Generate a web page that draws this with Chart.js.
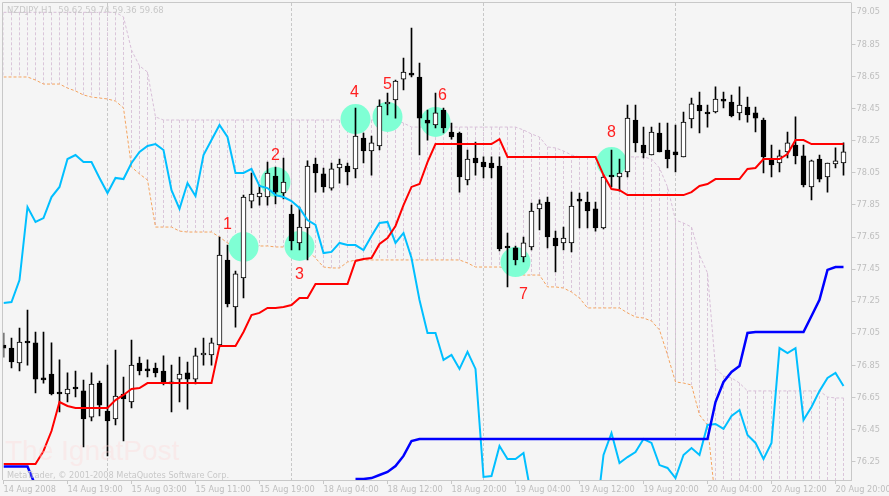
<!DOCTYPE html>
<html>
<head>
<meta charset="utf-8">
<script src="https://cdn.jsdelivr.net/npm/chart.js@4.4.1/dist/chart.umd.min.js"></script>
<style>
html, body { margin: 0; padding: 0; background: #f5f5f5; }
canvas { display: block; }
</style>
</head>
<body>
<canvas id="chart" width="889" height="496"></canvas>
<script>
// NZDJPY H1, 14 Aug 2008 11:00 .. 20 Aug 2008 22:00, one entry per bar
const opens = [
  76.977, 76.958, 76.865, 77.002, 76.990, 76.772, 76.796, 76.684, 76.672, 76.715,
  76.691, 76.528, 76.740, 76.566, 76.516, 76.672, 76.622, 76.865, 76.828, 76.834,
  76.815, 76.747, 76.765, 76.803, 76.765, 76.915, 76.915, 76.977, 77.507, 77.214,
  77.395, 77.874, 77.899, 77.899, 78.030, 77.924, 77.793, 77.613, 77.706, 78.105,
  78.043, 77.955, 78.080, 78.092, 78.074, 78.267, 78.186, 78.217, 78.479, 78.504,
  78.634, 78.672, 78.647, 78.379, 78.348, 78.441, 78.304, 78.298, 78.005, 78.142,
  78.117, 78.111, 78.092, 77.594, 77.582, 77.526, 77.588, 77.825, 77.868, 77.644,
  77.613, 77.613, 77.887, 77.868, 77.825, 77.706, 78.036, 78.024, 78.055, 78.379,
  78.223, 78.161, 78.298, 78.192, 78.180, 78.149, 78.385, 78.472, 78.429, 78.429,
  78.510, 78.491, 78.423, 78.460, 78.423, 78.379, 78.136, 78.111, 78.180, 78.223,
  78.155, 77.962, 78.136, 78.024, 78.105, 78.111
];
const highs = [
  77.052, 77.021, 77.083, 77.195, 77.058, 77.058, 76.990, 76.884, 76.803, 76.815,
  76.759, 76.803, 76.753, 76.852, 76.946, 76.778, 77.008, 76.902, 76.884, 76.865,
  76.909, 76.852, 76.902, 76.871, 76.958, 77.021, 77.021, 77.650, 77.600, 77.438,
  77.911, 78.049, 77.974, 78.117, 78.086, 78.142, 77.849, 77.837, 78.124, 78.142,
  78.080, 78.111, 78.136, 78.111, 78.454, 78.298, 78.279, 78.504, 78.547, 78.628,
  78.765, 78.952, 78.734, 78.441, 78.547, 78.454, 78.360, 78.304, 78.192, 78.242,
  78.149, 78.149, 78.149, 77.675, 77.594, 77.650, 77.862, 77.881, 77.899, 77.687,
  77.712, 77.930, 77.924, 77.930, 77.868, 78.036, 78.192, 78.136, 78.472, 78.472,
  78.335, 78.335, 78.360, 78.360, 78.348, 78.429, 78.516, 78.553, 78.472, 78.585,
  78.553, 78.535, 78.585, 78.522, 78.460, 78.391, 78.223, 78.192, 78.304, 78.398,
  78.223, 78.130, 78.161, 78.111, 78.205, 78.236
];
const lows = [
  76.902, 76.834, 76.815, 76.852, 76.678, 76.740, 76.666, 76.560, 76.622, 76.653,
  76.342, 76.504, 76.535, 76.286, 76.479, 76.379, 76.585, 76.790, 76.778, 76.778,
  76.728, 76.560, 76.622, 76.578, 76.734, 76.852, 76.852, 76.971, 77.214, 77.089,
  77.270, 77.831, 77.849, 77.849, 77.856, 77.887, 77.569, 77.569, 77.507, 77.930,
  77.930, 77.942, 77.986, 77.974, 78.018, 78.111, 78.036, 78.192, 78.410, 78.391,
  78.566, 78.647, 78.161, 78.254, 78.329, 78.298, 78.260, 77.930, 77.974, 78.036,
  78.018, 78.018, 77.563, 77.339, 77.476, 77.494, 77.569, 77.694, 77.582, 77.432,
  77.569, 77.557, 77.706, 77.706, 77.687, 77.700, 77.962, 77.936, 78.024, 78.180,
  78.142, 78.161, 78.180, 78.080, 78.055, 78.149, 78.329, 78.298, 78.335, 78.423,
  78.454, 78.398, 78.379, 78.366, 78.304, 78.049, 78.024, 78.055, 78.142, 78.105,
  77.962, 77.881, 77.993, 77.930, 78.080, 78.036
];
const closes = [
  76.958, 76.871, 76.996, 76.990, 76.765, 76.759, 76.672, 76.672, 76.703, 76.703,
  76.516, 76.734, 76.603, 76.504, 76.659, 76.641, 76.852, 76.815, 76.815, 76.803,
  76.747, 76.734, 76.796, 76.765, 76.909, 76.927, 76.990, 77.538, 77.233, 77.420,
  77.899, 77.918, 77.924, 78.049, 77.930, 77.993, 77.625, 77.712, 78.092, 78.049,
  77.962, 78.074, 78.105, 78.055, 78.279, 78.186, 78.236, 78.466, 78.491, 78.622,
  78.678, 78.659, 78.391, 78.360, 78.423, 78.329, 78.273, 78.024, 78.136, 78.111,
  78.086, 78.080, 77.575, 77.582, 77.507, 77.613, 77.812, 77.856, 77.650, 77.594,
  77.644, 77.843, 77.874, 77.812, 77.706, 78.024, 78.024, 78.049, 78.391, 78.236,
  78.174, 78.304, 78.180, 78.136, 78.161, 78.366, 78.479, 78.435, 78.417, 78.510,
  78.497, 78.404, 78.472, 78.410, 78.391, 78.149, 78.099, 78.155, 78.236, 78.155,
  77.974, 78.124, 78.011, 78.111, 78.124, 78.180
];

// red line
const redLine = [
  76.236, 76.236, 76.236, 76.236, 76.236, 76.317, 76.441, 76.622, 76.597, 76.585,
  76.585, 76.585, 76.585, 76.585, 76.634, 76.666, 76.703, 76.709, 76.740, 76.740,
  76.740, 76.740, 76.740, 76.740, 76.740, 76.740, 76.740, 76.971, 76.971, 76.971,
  77.058, 77.164, 77.177, 77.208, 77.208, 77.214, 77.226, 77.270, 77.270, 77.357,
  77.357, 77.357, 77.357, 77.357, 77.501, 77.513, 77.519, 77.607, 77.644, 77.719,
  77.849, 77.962, 77.980, 78.117, 78.229, 78.229, 78.229, 78.229, 78.229, 78.229,
  78.229, 78.229, 78.260, 78.149, 78.149, 78.149, 78.149, 78.149, 78.149, 78.149,
  78.149, 78.149, 78.149, 78.149, 78.149, 78.036, 77.949, 77.942, 77.911, 77.911,
  77.911, 77.911, 77.911, 77.911, 77.911, 77.911, 77.930, 77.968, 77.980, 78.011,
  78.011, 78.011, 78.011, 78.074, 78.080, 78.136, 78.136, 78.136, 78.167, 78.254,
  78.254, 78.229, 78.229, 78.229, 78.229, 78.229
];

// blue line (below the visible range from bar 5 to bar 43)
const blueLine = [
  76.220, 76.220, 76.220, 76.220, 76.100, null, null, null, null, null,
  null, null, null, null, null, null, null, null, null, null,
  null, null, null, null, null, null, null, null, null, null,
  null, null, null, null, null, null, null, null, null, null,
  null, null, null, null, 76.142, 76.142, 76.148, 76.167, 76.186, 76.223,
  76.286, 76.379, 76.391, 76.391, 76.391, 76.391, 76.391, 76.391, 76.391, 76.391,
  76.391, 76.391, 76.391, 76.391, 76.391, 76.391, 76.391, 76.391, 76.391, 76.391,
  76.391, 76.391, 76.391, 76.391, 76.391, 76.391, 76.391, 76.391, 76.391, 76.391,
  76.391, 76.391, 76.391, 76.391, 76.391, 76.391, 76.391, 76.391, 76.391, 76.622,
  76.747, 76.809, 76.846, 77.052, 77.058, 77.058, 77.058, 77.058, 77.058, 77.058,
  77.058, 77.158, 77.258, 77.445, 77.463, 77.463
];

// light blue line
const cyanLine = [
  77.239, 77.245, 77.382, 77.837, 77.744, 77.768, 77.899, 77.962, 78.136, 78.161,
  78.117, 78.117, 78.018, 77.924, 78.018, 78.011, 78.111, 78.180, 78.217, 78.229,
  78.192, 77.942, 77.825, 77.986, 77.905, 78.161, 78.254, 78.348, 78.273, 78.049,
  78.049, 78.074, 77.968, 77.955, 77.911, 77.899, 77.874, 77.831, 77.756, 77.725,
  77.550, 77.557, 77.613, 77.600, 77.600, 77.569, 77.656, 77.737, 77.744, 77.613,
  77.675, 77.519, 77.258, 77.052, 77.052, 76.884, 76.915, 76.828, 76.934, 76.828,
  76.155, 76.161, 76.348, 76.267, 76.267, 76.304, 76.030, null, null, null,
  null, null, null, null, 75.870, 76.292, 76.429, 76.242, 76.279, 76.310,
  76.391, 76.367, 76.229, 76.211, 76.148, 76.292, 76.335, 76.292, 76.479, 76.485,
  76.454, 76.535, 76.572, 76.416, 76.367, 76.267, 76.367, 76.958, 76.927, 76.958,
  76.510, 76.591, 76.691, 76.772, 76.803, 76.722
];

// cloud borders
const spanA = [
  79.050, 79.050, 79.050, 79.050, 79.050, 79.050, 79.050, 79.050, 79.050, 79.050,
  79.050, 79.050, 79.050, 79.050, 79.050, 79.021, 78.815, 78.716, 78.678, 78.398,
  78.379, 78.379, 78.379, 78.379, 78.379, 78.379, 78.379, 78.379, 78.379, 78.379,
  78.379, 78.379, 78.379, 78.379, 78.379, 78.379, 78.379, 78.379, 78.379, 78.379,
  78.379, 78.379, 78.379, 78.379, 78.379, 78.379, 78.379, 78.379, 78.379, 78.379,
  78.360, 78.335, 78.335, 78.335, 78.335, 78.335, 78.335, 78.335, 78.335, 78.335,
  78.335, 78.335, 78.335, 78.335, 78.335, 78.317, 78.292, 78.273, 78.211, 78.205,
  78.186, 78.161, 78.149, 78.149, 78.149, 78.149, 78.149, 78.149, 78.149, 78.149,
  78.149, 78.136, 78.080, 77.962, 77.756, 77.737, 77.712, 77.538, 77.426, 76.834,
  76.784, 76.772, 76.740, 76.691, 76.691, 76.691, 76.691, 76.691, 76.691, 76.691,
  76.691, 76.691, 76.691, 76.653, 76.647, 76.647
];
const spanB = [
  78.647, 78.647, 78.647, 78.647, 78.628, 78.603, 78.603, 78.603, 78.578, 78.560,
  78.535, 78.522, 78.516, 78.510, 78.497, 78.454, 78.086, 78.043, 78.005, 77.712,
  77.712, 77.712, 77.687, 77.681, 77.681, 77.681, 77.681, 77.650, 77.613, 77.594,
  77.594, 77.594, 77.594, 77.594, 77.588, 77.588, 77.582, 77.575, 77.569, 77.519,
  77.463, 77.457, 77.457, 77.494, 77.507, 77.507, 77.507, 77.507, 77.507, 77.507,
  77.507, 77.507, 77.507, 77.507, 77.507, 77.507, 77.507, 77.507, 77.488, 77.463,
  77.463, 77.463, 77.463, 77.457, 77.426, 77.413, 77.413, 77.413, 77.339, 77.339,
  77.332, 77.307, 77.270, 77.208, 77.208, 77.208, 77.208, 77.208, 77.177, 77.152,
  77.145, 77.127, 77.071, 76.915, 76.747, 76.740, 76.728, 76.541, 76.479, 76.000,
  null, null, null, null, null, null, null, null, null, null,
  null, null, null, null, null, null
];

// marked points
const markerBars = [30, 34, 37, 44, 48, 54, 64, 76];
const markerPrices = [77.588, 77.993, 77.594, 78.385, 78.398, 78.367, 77.494, 78.117];
const markerLabels = ['1', '2', '3', '4', '5', '6', '7', '8'];
const markerLabelShift = [[-16, -22], [0, -26], [0, 29], [-1, -26], [0, -32], [7, -26], [8, 33], [0, -29]];

// day separators (first bar of each day)
const dayStartBars = [13, 36, 60, 84];

const xTickBars = [0, 8, 16, 24, 32, 40, 48, 56, 64, 72, 80, 88, 96, 104];
const xTickLabels = ['14 Aug 2008', '14 Aug 19:00', '15 Aug 03:00', '15 Aug 11:00', '15 Aug 19:00',
  '18 Aug 04:00', '18 Aug 12:00', '18 Aug 20:00', '19 Aug 04:00', '19 Aug 12:00',
  '19 Aug 20:00', '20 Aug 04:00', '20 Aug 12:00', '20 Aug 20:00'];
const yTicks = [76.25, 76.45, 76.65, 76.85, 77.05, 77.25, 77.45, 77.65, 77.85, 78.05, 78.25, 78.45, 78.65, 78.85, 79.05];

const labels = [];
for (let i = 0; i <= opens.length; i++) {
    labels.push(i);
}

const wickData = highs.map((h, i) => [lows[i], h]);
const bodyData = opens.map((o, i) => [o, closes[i]]);
const bodyColors = opens.map((o, i) => closes[i] >= o ? '#ffffff' : '#000000');
const markerData = markerBars.map((b, i) => ({x: b, y: markerPrices[i]}));

const gray = 'rgb(200,200,200)';
const textGray = 'rgb(190,190,190)';

const backdrop = {
    id: 'backdrop',
    beforeDraw(chart) {
        const c = chart.ctx;
        c.save();
        c.fillStyle = '#f5f5f5';
        c.fillRect(0, 0, chart.width, chart.height);
        c.restore();
    },
    beforeDatasetsDraw(chart) {
        const c = chart.ctx;
        const area = chart.chartArea;
        const x = chart.scales.x;
        const y = chart.scales.y;
        c.save();
        c.beginPath();
        c.rect(area.left, area.top, area.right - area.left, area.bottom - area.top);
        c.clip();
        c.lineWidth = 1;

        c.strokeStyle = gray;
        c.setLineDash([3, 2]);
        dayStartBars.forEach(b => {
            const px = x.getPixelForValue(b);
            c.beginPath();
            c.moveTo(px, area.top);
            c.lineTo(px, area.bottom);
            c.stroke();
        });

        c.strokeStyle = 'rgb(218,198,218)';
        c.setLineDash([3, 2]);
        for (let i = 0; i < spanA.length; i++) {
            if (spanA[i] === null) continue;
            const px = x.getPixelForValue(i);
            const ya = y.getPixelForValue(spanA[i]);
            const yb = spanB[i] === null ? area.bottom : y.getPixelForValue(spanB[i]);
            c.beginPath();
            c.moveTo(px, Math.min(ya, yb));
            c.lineTo(px, Math.max(ya, yb));
            c.stroke();
        }
        c.restore();
    },
    afterDatasetsDraw(chart) {
        const c = chart.ctx;
        const area = chart.chartArea;
        const x = chart.scales.x;
        const y = chart.scales.y;
        c.save();
        c.strokeStyle = gray;
        c.lineWidth = 1;
        c.beginPath();
        c.moveTo(area.left - 1, area.bottom);
        c.lineTo(area.left - 1, area.top - 0.5);
        c.lineTo(area.right, area.top - 0.5);
        c.stroke();

        c.fillStyle = '#ff2020';
        c.font = '16px "Liberation Sans"';
        c.textAlign = 'center';
        c.textBaseline = 'middle';
        markerBars.forEach((b, i) => {
            const px = x.getPixelForValue(b) + markerLabelShift[i][0];
            const py = y.getPixelForValue(markerPrices[i]) + markerLabelShift[i][1];
            c.fillText(markerLabels[i], px, py);
        });
        c.restore();
    },
    afterDraw(chart) {
        const c = chart.ctx;
        c.save();
        c.textAlign = 'left';
        c.textBaseline = 'middle';
        c.fillStyle = gray;
        c.font = '8.5px "DejaVu Sans"';
        c.fillText('NZDJPY,H1  59.62 59.74 59.36 59.68', 7, 11);
        c.font = '8.2px "DejaVu Sans"';
        c.fillText('MetaTrader, \u00a9 2001-2008 MetaQuotes Software Corp.', 7, 476);
        c.textBaseline = 'alphabetic';
        c.font = '28px "Liberation Sans"';
        c.fillStyle = 'rgba(255,215,215,0.35)';
        c.fillText('The IgnatPost', 5, 460);
        c.restore();
    }
};

const ctx = document.getElementById('chart').getContext('2d');
const chart = new Chart(ctx, {
    type: 'bar',
    data: {
        labels: labels,
        datasets: [
            {
                type: 'line', label: 'Span A', data: spanA,
                borderColor: 'rgb(216,191,216)', borderWidth: 1, borderDash: [3, 2],
                pointRadius: 0, tension: 0, clip: 0, order: 10
            },
            {
                type: 'line', label: 'Span B', data: spanB,
                borderColor: 'rgb(244,164,96)', borderWidth: 1, borderDash: [3, 2],
                pointRadius: 0, tension: 0, clip: 0, order: 10
            },
            {
                type: 'line', label: 'Marks', data: markerData, showLine: false,
                pointRadius: 15, pointHoverRadius: 15, pointBorderWidth: 0,
                pointBackgroundColor: 'rgb(127,255,212)', order: 9
            },
            {
                label: 'Wicks', data: wickData, backgroundColor: '#000000',
                barThickness: 1, grouped: false, order: 8
            },
            {
                label: 'Bodies', data: bodyData, backgroundColor: bodyColors,
                borderColor: '#000000', borderWidth: 1, borderSkipped: false,
                barThickness: 5, grouped: false, order: 7
            },
            {
                type: 'line', label: 'Light blue', data: cyanLine,
                borderColor: 'rgb(0,191,255)', borderWidth: 2,
                pointRadius: 0, tension: 0, clip: 0, order: 3
            },
            {
                type: 'line', label: 'Blue', data: blueLine,
                borderColor: 'rgb(0,0,255)', borderWidth: 2.5,
                pointRadius: 0, tension: 0, clip: 0, order: 2
            },
            {
                type: 'line', label: 'Red', data: redLine,
                borderColor: 'rgb(255,0,0)', borderWidth: 2,
                pointRadius: 0, tension: 0, clip: 0, order: 1
            }
        ]
    },
    options: {
        responsive: false,
        animation: false,
        events: [],
        layout: {autoPadding: false, padding: {left: 3.5, top: 3, right: 0, bottom: 0}},
        plugins: {
            legend: {display: false},
            tooltip: {enabled: false}
        },
        scales: {
            x: {
                type: 'category',
                offset: false,
                grid: {offset: false, drawOnChartArea: false, drawTicks: true, tickLength: 4, color: gray},
                border: {display: true, color: gray},
                ticks: {
                    autoSkip: false, maxRotation: 0, minRotation: 0, align: 'start', padding: 1,
                    color: textGray, font: {family: 'DejaVu Sans', size: 8.2},
                    callback: (v) => xTickLabels[xTickBars.indexOf(v)]
                },
                afterBuildTicks: (s) => { s.ticks = xTickBars.map(v => ({value: v})); },
                afterFit: (s) => { s.height = 16; s.paddingLeft = 0; s.paddingRight = 0; }
            },
            y: {
                type: 'linear',
                position: 'right',
                min: 76.136,
                max: 79.108,
                grid: {drawOnChartArea: false, drawTicks: true, tickLength: 4, color: gray},
                border: {display: true, color: gray},
                ticks: {
                    padding: 1, color: textGray, font: {family: 'DejaVu Sans', size: 8.2},
                    callback: (v) => Number(v).toFixed(2)
                },
                afterBuildTicks: (s) => { s.ticks = yTicks.map(v => ({value: v})); },
                afterFit: (s) => { s.width = 37.5; s.paddingTop = 0; s.paddingBottom = 0; }
            }
        }
    },
    plugins: [backdrop]
});
</script>
</body>
</html>
